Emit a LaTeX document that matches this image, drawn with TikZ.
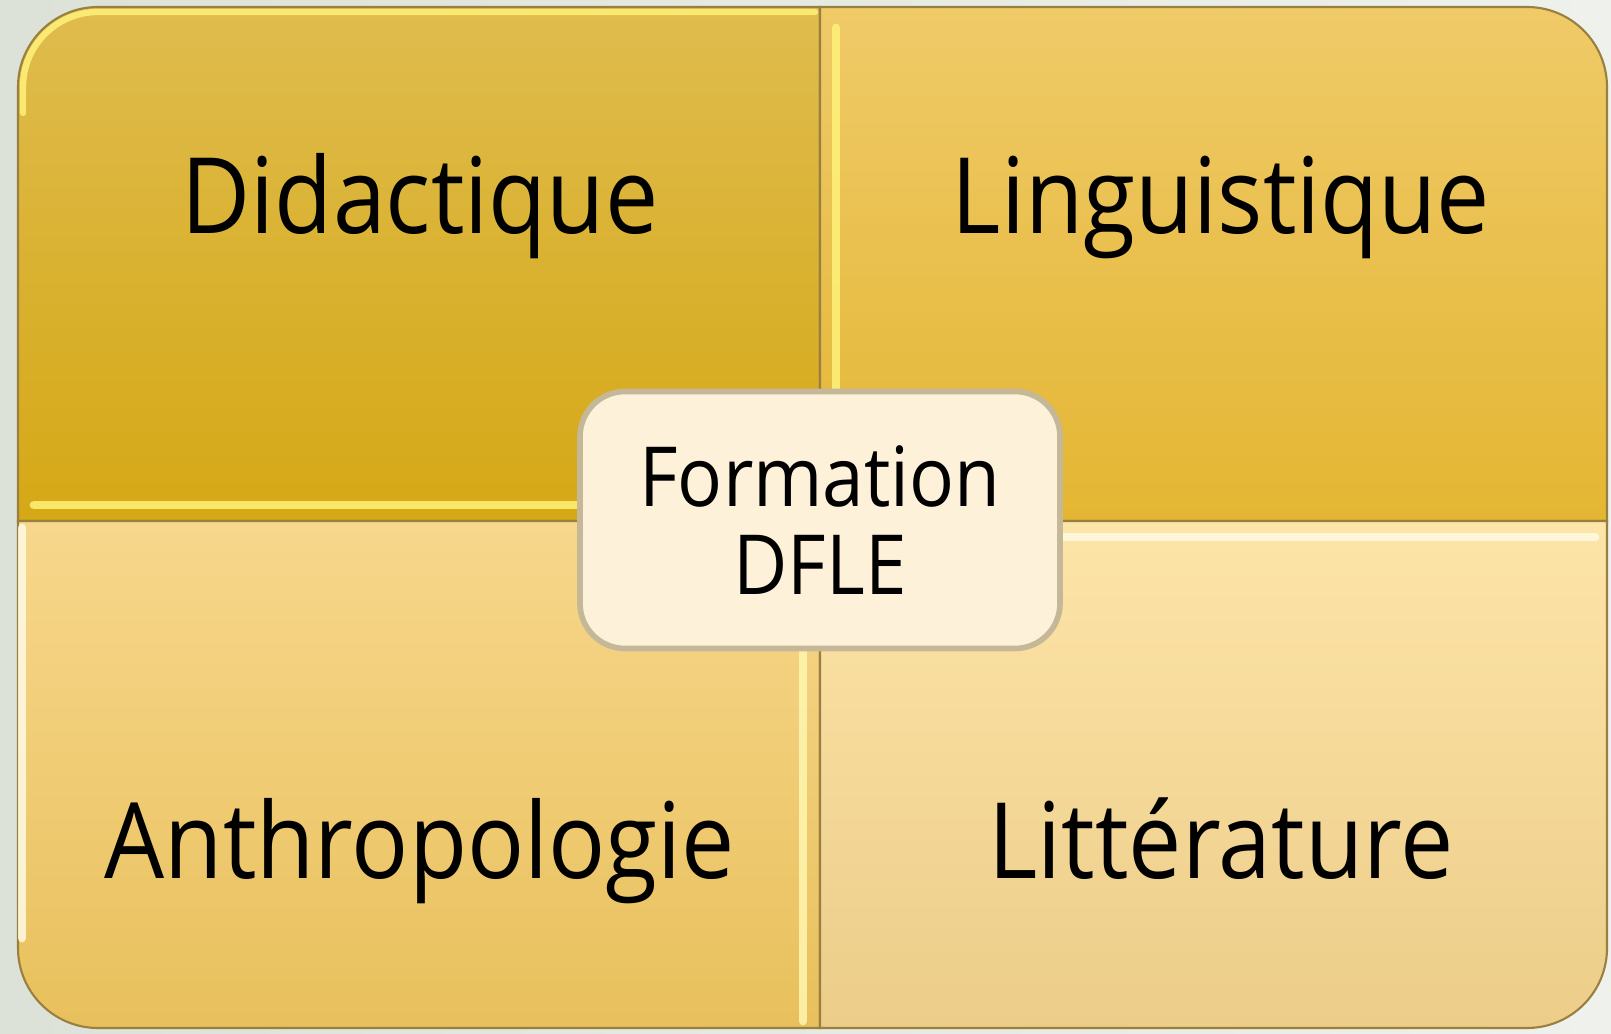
\documentclass[tikz,border=0pt]{standalone}
\usepackage{fontspec}
\setmainfont[FakeStretch=0.9]{Open Sans}
\usetikzlibrary{positioning}
\usepackage[dvipsnames]{xcolor}

\definecolor{paper}{HTML}{EEF1EC}
\definecolor{paperdark}{HTML}{DCE2D8}
\definecolor{rim}{HTML}{9A8040}
\definecolor{tlTop}{HTML}{DFBC4E}
\definecolor{tlBot}{HTML}{D5A815}
\definecolor{trTop}{HTML}{EFCA68}
\definecolor{trBot}{HTML}{E4B633}
\definecolor{blTop}{HTML}{F7D78C}
\definecolor{blBot}{HTML}{E8C05C}
\definecolor{brTop}{HTML}{FDE4A8}
\definecolor{brBot}{HTML}{ECCD89}
\definecolor{hubfill}{HTML}{FEF1D9}
\definecolor{hubrim}{HTML}{C4B898}
\definecolor{glintgold}{HTML}{FFF27A}
\definecolor{glintpale}{HTML}{FFFBE4}

\begin{document}
\begin{tikzpicture}[thick,node distance=8.01cm,topic/.style={font=\fontsize{30}{30}\selectfont,text height=0.8cm,text depth=0.2cm,inner sep=0pt},hub/.style={rectangle,rounded corners=0.45cm,draw=hubrim,line width=1.6pt,fill=hubfill,minimum width=4.8cm,minimum height=2.57cm,align=center,font=\fontsize{23.6}{25}\selectfont},glint/.style={line width=2.5pt,line cap=round,opacity=0.85}]
            \useasboundingbox (0,0) rectangle (16.11,10.33);
            \shade[left color=paperdark,right color=paper] (0,0) rectangle (16.11,10.33);

            % quadrants
            \shade[top color=tlTop,bottom color=tlBot,draw=rim,line width=0.6pt]
                (8.20,5.12) -- (0.18,5.12) -- (0.18,9.46) arc[start angle=180,end angle=90,radius=0.8] -- (8.20,10.26) -- cycle;
            \shade[top color=trTop,bottom color=trBot,draw=rim,line width=0.6pt]
                (8.20,5.12) -- (8.20,10.26) -- (15.27,10.26) arc[start angle=90,end angle=0,radius=0.8] -- (16.07,5.12) -- cycle;
            \shade[top color=blTop,bottom color=blBot,draw=rim,line width=0.6pt]
                (8.20,5.12) -- (0.18,5.12) -- (0.18,0.85) arc[start angle=180,end angle=270,radius=0.8] -- (8.20,0.05) -- cycle;
            \shade[top color=brTop,bottom color=brBot,draw=rim,line width=0.6pt]
                (8.20,5.12) -- (16.07,5.12) -- (16.07,0.85) arc[start angle=0,end angle=-90,radius=0.8] -- (8.20,0.05) -- cycle;

            % bevel lights
            \draw[glint,glintgold,line width=1.8pt] (0.23,9.20) -- (0.23,9.46) arc[start angle=180,end angle=90,radius=0.75] -- (8.15,10.21);
            \draw[glint,glintgold] (0.34,5.28) -- (8.05,5.28);
            \draw[glint,glintgold] (8.36,10.05) -- (8.36,5.30);
            \draw[glint,glintpale] (0.22,5.05) -- (0.22,0.95);
            \draw[glint,glintgold!60!white] (8.03,5.05) -- (8.03,0.12);
            \draw[glint,glintpale] (8.32,4.96) -- (15.95,4.96);

            \node[topic] (did) at (4.20,8.29) {Didactique};
            \node[topic] (ling) [right of = did] {Linguistique};
            \node[topic] (anth) [below of = did, node distance=6.44cm] {Anthropologie};
            \node[topic] (litt) [right of = anth] {Littérature};

            \node[hub] (dfle) at (8.20,5.13) {Formation\\DFLE};
        \end{tikzpicture}
\end{document}
